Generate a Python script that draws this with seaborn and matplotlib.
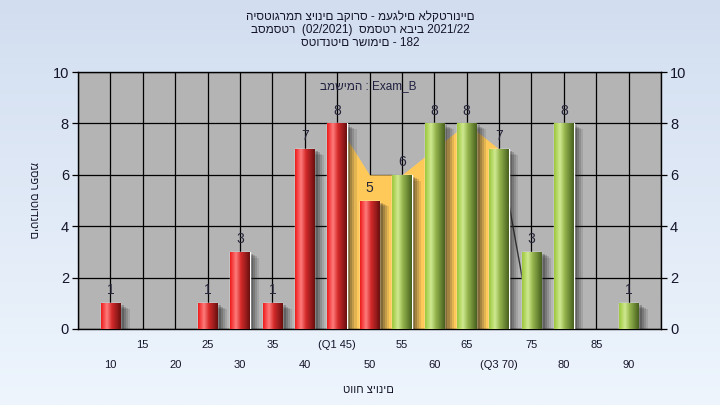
import matplotlib
matplotlib.use('Agg')
import matplotlib.pyplot as plt
import matplotlib.patheffects as pe
from matplotlib.colors import LinearSegmentedColormap, to_rgb
import seaborn as sns
import numpy as np
import pandas as pd

# histogram data
scores = [10, 25, 30, 35, 40, 45, 50, 55, 60, 65, 70, 75, 80, 90]
counts = [1, 1, 3, 1, 7, 8, 5, 6, 8, 8, 7, 3, 8, 1]

# yellow band between Q1 and Q3 and the tail line after it
band_x = [45, 50, 55, 60, 65, 70]
band_y = [8, 6, 6, 7, 8, 7]
tail_x = [70, 75]
tail_y = [7, 0]

major_ticks = [10, 20, 30, 40, 50, 60, 70, 80, 90]
major_labels = ['10', '20', '30', '40', '50', '60', '(Q3 70)', '80', '90']
minor_ticks = [5, 15, 25, 35, 45, 55, 65, 75, 85, 95]
minor_labels = ['', '15', '25', '35', '(Q1 45)', '55', '65', '75', '85', '']

title_lines = ['היסטוגרמת ציונים בקורס - מעגלים אלקטרוניים',
               'בסמסטר  (02/2021)  סמסטר אביב 2021/22',
               'סטודנטים רשומים - 182']

sns.set_style('white')
plt.rcParams['font.family'] = ['Liberation Sans', 'DejaVu Sans']
txt = '#15152a'

fig = plt.figure(figsize=(7.2, 4.05), dpi=100)

# light blue gradient background
bg = fig.add_axes([0, 0, 1, 1], zorder=-10)
bg.axis('off')
t = np.linspace(0, 1, 256)[:, None, None]
top = np.array(to_rgb('#d2def0'))
bot = np.array(to_rgb('#eef5fd'))
bg.imshow(top + (bot - top) * t, aspect='auto', extent=[0, 1, 0, 1])

ax = fig.add_axes([78 / 720, 1 - 329 / 405, 583 / 720, 257 / 405])
ax.set_facecolor('#b4b4b4')

df = pd.DataFrame({'score': scores, 'count': counts,
                   'group': ['low' if s <= 50 else 'high' for s in scores]})
sns.barplot(data=df, x='score', y='count', hue='group',
            palette={'low': '#e82020', 'high': '#8fbf40'},
            native_scale=True, width=0.6, dodge=False, legend=False,
            ax=ax, zorder=3)

ax.fill_between(band_x, band_y, 0, color='#ffc95a', lw=0, zorder=1)
ax.plot(tail_x, tail_y, color='#333333', lw=1, zorder=1.5)

red_cm = LinearSegmentedColormap.from_list('r', [(0, '#ee1c1c'), (0.3, '#ff7c7c'),
                                                 (0.55, '#d42a2a'), (1, '#6a1010')])
green_cm = LinearSegmentedColormap.from_list('g', [(0, '#9cc83c'), (0.3, '#cfe990'),
                                                   (0.55, '#94b44c'), (1, '#48611f')])

# soft drop shadow: a few stacked offsets
shadow = [pe.SimplePatchShadow(offset=(o, -o * 0.6), shadow_rgbFace='#202020', alpha=a)
          for o, a in [(7, 0.12), (5.5, 0.15), (4, 0.2), (2.5, 0.25)]]

for p, s in zip(ax.patches, scores):
    x0, w, h = p.get_x(), p.get_width(), p.get_height()
    cm = red_cm if s <= 50 else green_cm
    row = cm(np.linspace(0, 1, 64))[None, :, :3]
    p.set_path_effects(shadow + [pe.Normal()])
    im = ax.imshow(row, extent=[x0, x0 + w, 0, h], aspect='auto',
                   interpolation='bilinear', zorder=3.1)
    im.set_clip_path(p)

for s, c in zip(scores, counts):
    ax.text(s, c + 0.5, str(c), ha='center', va='center', fontsize=10, color='#25253a', zorder=4)

ax.text(49.8, 9.45, 'במשימה : Exam_B', ha='center', va='center', fontsize=8.5, color='#202040')

ax.set_xlim(5, 95)
ax.set_ylim(0, 10)
ax.set_yticks([0, 2, 4, 6, 8, 10])
ax.set_xticks(major_ticks)
ax.set_xticklabels(major_labels)
ax.set_xticks(minor_ticks, minor=True)
ax.set_xticklabels(minor_labels, minor=True)
ax.set_xlabel('')
ax.set_ylabel('')

ax.set_axisbelow(True)
ax.grid(True, which='both', color='black', lw=0.9)
ax.tick_params(axis='x', which='both', length=4, width=0.9, color='black', labelsize=8, labelcolor=txt)
ax.tick_params(axis='x', which='minor', pad=4)
ax.tick_params(axis='x', which='major', pad=18)
ax.tick_params(axis='y', length=4.5, width=0.9, color='black', labelsize=10.5, labelcolor=txt,
               left=True, right=True, labelright=True, pad=2)
for sp in ax.spines.values():
    sp.set_color('black')
    sp.set_linewidth(1)

for i, line in enumerate(title_lines):
    fig.text(0.5, 1 - (17 + 13 * i) / 405, line, ha='center', va='center', fontsize=8.5, color=txt)
fig.text(33 / 720, 1 - 200 / 405, 'מספר סטודנטים', rotation=270, ha='center', va='center',
         fontsize=8, color=txt)
fig.text(368 / 720, 1 - 390 / 405, 'טווח ציונים', ha='center', va='center', fontsize=8, color=txt)

fig.savefig('out.png', dpi=100)
